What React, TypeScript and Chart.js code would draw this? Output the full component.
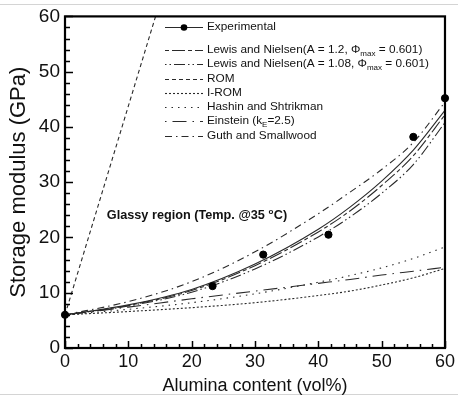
import React, { useEffect, useRef } from "react";
import { Chart, registerables } from "chart.js";

Chart.register(...registerables);

const FONT = "'Liberation Sans', Arial, sans-serif";

// ---- data ----
const X_TICKS = [0, 10, 20, 30, 40, 50, 60];
const Y_TICKS = [0, 10, 20, 30, 40, 50, 60];

const EXP_X = [0, 23.3, 31.3, 41.6, 55.0, 60];
const EXP_Y = [6, 11.2, 16.9, 20.5, 38.2, 45.2];

const CURVE_X = [0, 10, 20, 30, 40, 45, 50, 55, 60];
const FIT_Y = [6, 7.8, 10.6, 15.2, 21.5, 25.5, 30.2, 35.8, 43.0];
const LN12_Y = [6, 7.7, 10.4, 14.9, 21.0, 24.8, 29.4, 34.8, 42.2];
const LN108_Y = [6, 7.6, 10.1, 14.3, 20.1, 23.7, 28.0, 33.2, 40.8];
const IROM_Y = [6, 6.6, 7.3, 8.2, 9.5, 10.3, 11.4, 12.7, 14.4];
const HS_Y = [6, 7.0, 8.2, 9.8, 11.9, 13.1, 14.5, 16.2, 18.3];
const EIN_Y = [6, 7.4, 8.9, 10.3, 11.7, 12.4, 13.2, 13.9, 14.6];
const GUTH_Y = [6, 8.4, 12.0, 17.4, 24.3, 28.2, 32.3, 37.2, 44.5];

const ROM_X = [0, 14.3];
const ROM_Y = [6, 60];

const LABELS = [
  "Experimental",
  "Lewis and Nielsen(A = 1.2, Φmax = 0.601)",
  "Lewis and Nielsen(A = 1.08, Φmax = 0.601)",
  "ROM",
  "I-ROM",
  "Hashin and Shtrikman",
  "Einstein (kE=2.5)",
  "Guth and Smallwood",
];

// legend text split into normal / subscript parts
const LEGEND_PARTS: [string, string][][] = [
  [["Experimental", ""]],
  [["Lewis and Nielsen(A = 1.2, Φ", ""], ["max", "sub"], [" = 0.601)", ""]],
  [["Lewis and Nielsen(A = 1.08, Φ", ""], ["max", "sub"], [" = 0.601)", ""]],
  [["ROM", ""]],
  [["I-ROM", ""]],
  [["Hashin and Shtrikman", ""]],
  [["Einstein (k", ""], ["E", "sub"], ["=2.5)", ""]],
  [["Guth and Smallwood", ""]],
];

const NOTE_TEXT = "Glassy region (Temp. @35 ";
const NOTE_SUP = "o";
const NOTE_END = "C)";
const NOTE_POS = { x: 6.6, y: 24 };

const pts = (xs: number[], ys: number[]) => xs.map((x, i) => ({ x, y: ys[i] }));

const LINE_COLOR = "#2a2a2a";

const DASH = {
  fit: [] as number[],
  ln12: [4, 3, 13, 3],
  ln108: [1.5, 3, 1.5, 3, 11, 3],
  rom: [4, 3],
  irom: [2, 2],
  hs: [1.5, 5],
  ein: [1.5, 6, 14, 6],
  guth: [7, 4, 1.5, 4],
};

export default function App() {
  const ref = useRef<HTMLCanvasElement | null>(null);

  useEffect(() => {
    if (!ref.current) return;

    const lineDs = (label: string, data: any[], dash: number[], legend = true) => ({
      label,
      data,
      showLine: true,
      borderColor: LINE_COLOR,
      backgroundColor: LINE_COLOR,
      borderWidth: 1.1,
      borderDash: dash,
      pointRadius: 0,
      tension: 0.4,
      cubicInterpolationMode: "monotone" as const,
      fill: false,
      _legend: legend,
    });

    const decor = {
      id: "decor",
      beforeDraw(chart: any) {
        const { ctx, width } = chart;
        ctx.save();
        ctx.fillStyle = "#fff";
        ctx.fillRect(0, 0, width, chart.height);
        ctx.strokeStyle = "#d4d4d4";
        ctx.lineWidth = 1;
        ctx.beginPath();
        ctx.moveTo(0, 4.5);
        ctx.lineTo(width, 4.5);
        ctx.moveTo(0, 394.5);
        ctx.lineTo(width, 394.5);
        ctx.stroke();
        ctx.restore();
      },
      afterDraw(chart: any) {
        const { ctx, chartArea: a, scales } = chart;
        const xs = scales.x;
        const ys = scales.y;
        ctx.save();
        // inward ticks
        ctx.strokeStyle = "#000";
        ctx.lineWidth = 1.5;
        ctx.beginPath();
        for (let v = 0; v <= 60; v += 2) {
          const major = v % 10 === 0;
          const px = Math.round(xs.getPixelForValue(v)) + 0.5;
          ctx.moveTo(px, a.bottom);
          ctx.lineTo(px, a.bottom - (major ? 7 : 4));
          const py = Math.round(ys.getPixelForValue(v)) + 0.5;
          ctx.moveTo(a.left, py);
          ctx.lineTo(a.left + (major ? 8 : 5), py);
        }
        ctx.stroke();
        // frame
        ctx.lineWidth = 2.2;
        ctx.strokeRect(a.left, a.top, a.right - a.left, a.bottom - a.top);

        // annotation
        ctx.fillStyle = "#111";
        ctx.textBaseline = "middle";
        ctx.textAlign = "left";
        ctx.font = `bold 12.7px ${FONT}`;
        let nx = xs.getPixelForValue(NOTE_POS.x);
        const ny = ys.getPixelForValue(NOTE_POS.y);
        ctx.fillText(NOTE_TEXT, nx, ny);
        nx += ctx.measureText(NOTE_TEXT).width;
        ctx.font = `bold 8px ${FONT}`;
        ctx.fillText(NOTE_SUP, nx, ny - 4);
        nx += ctx.measureText(NOTE_SUP).width + 0.5;
        ctx.font = `bold 12.7px ${FONT}`;
        ctx.fillText(NOTE_END, nx, ny);

        // legend
        const rows = [27, 50, 64, 79, 93, 107, 121, 136];
        const x0 = 165;
        const x1 = 203;
        const tx = 207;
        const legendDs = chart.data.datasets.filter((d: any) => d._legend);
        legendDs.forEach((d: any, i: number) => {
          const y = rows[i];
          ctx.strokeStyle = LINE_COLOR;
          ctx.lineWidth = 1.1;
          ctx.setLineDash(d.borderDash || []);
          ctx.beginPath();
          ctx.moveTo(x0, y + 0.5);
          ctx.lineTo(x1, y + 0.5);
          ctx.stroke();
          ctx.setLineDash([]);
          if (d._marker) {
            ctx.fillStyle = "#000";
            ctx.beginPath();
            ctx.arc((x0 + x1) / 2, y + 0.5, 3.3, 0, Math.PI * 2);
            ctx.fill();
          }
          ctx.fillStyle = "#111";
          let cx = tx;
          for (const [t, kind] of LEGEND_PARTS[i]) {
            if (kind === "sub") {
              ctx.font = `8px ${FONT}`;
              ctx.fillText(t, cx, y + 3.5);
            } else {
              ctx.font = `11.8px ${FONT}`;
              ctx.fillText(t, cx, y);
            }
            cx += ctx.measureText(t).width;
          }
        });
        ctx.restore();
      },
    };

    const chart = new Chart(ref.current, {
      type: "scatter",
      data: {
        datasets: [
          {
            label: LABELS[0],
            data: pts(EXP_X, EXP_Y),
            showLine: false,
            pointRadius: 3.6,
            pointBackgroundColor: "#000",
            pointBorderColor: "#000",
            borderColor: LINE_COLOR,
            borderDash: DASH.fit,
            clip: false,
            _legend: true,
            _marker: true,
          } as any,
          lineDs("Fit", pts(CURVE_X, FIT_Y), DASH.fit, false),
          lineDs(LABELS[1], pts(CURVE_X, LN12_Y), DASH.ln12),
          lineDs(LABELS[2], pts(CURVE_X, LN108_Y), DASH.ln108),
          lineDs(LABELS[3], pts(ROM_X, ROM_Y), DASH.rom),
          lineDs(LABELS[4], pts(CURVE_X, IROM_Y), DASH.irom),
          lineDs(LABELS[5], pts(CURVE_X, HS_Y), DASH.hs),
          lineDs(LABELS[6], pts(CURVE_X, EIN_Y), DASH.ein),
          lineDs(LABELS[7], pts(CURVE_X, GUTH_Y), DASH.guth),
        ] as any,
      },
      options: {
        responsive: false,
        animation: false,
        devicePixelRatio: 1,
        layout: { padding: { top: 11, right: 5, left: 0, bottom: 0 } },
        plugins: {
          legend: { display: false },
          tooltip: { enabled: false },
        },
        scales: {
          x: {
            type: "linear",
            min: 0,
            max: 60,
            afterFit: (s: any) => {
              s.height = 50;
            },
            afterBuildTicks: (s: any) => {
              s.ticks = X_TICKS.map((v) => ({ value: v }));
            },
            grid: { display: false, drawTicks: false },
            border: { display: false },
            ticks: {
              color: "#111",
              font: { size: 18, family: FONT },
              padding: 3,
              maxRotation: 0,
              autoSkip: false,
            },
            title: {
              display: true,
              text: "Alumina content (vol%)",
              color: "#111",
              font: { size: 18, family: FONT },
              padding: { top: 0, bottom: 1 },
            },
          },
          y: {
            type: "linear",
            min: 0,
            max: 60,
            afterFit: (s: any) => {
              s.width = 65;
            },
            afterBuildTicks: (s: any) => {
              s.ticks = Y_TICKS.map((v) => ({ value: v }));
            },
            grid: { display: false, drawTicks: false },
            border: { display: false },
            ticks: {
              color: "#111",
              font: { size: 19, family: FONT },
              padding: 5,
              autoSkip: false,
            },
            title: {
              display: true,
              text: "Storage modulus (GPa)",
              color: "#111",
              font: { size: 22, family: FONT },
              padding: { top: 6, bottom: 0 },
            },
          },
        },
      } as any,
      plugins: [decor],
    });

    return () => chart.destroy();
  }, []);

  return (
    <div style={{ position: "fixed", left: 0, top: 0, width: 458, height: 398, background: "#fff" }}>
      <canvas ref={ref} width={458} height={398} style={{ width: 458, height: 398, display: "block" }} />
    </div>
  );
}
